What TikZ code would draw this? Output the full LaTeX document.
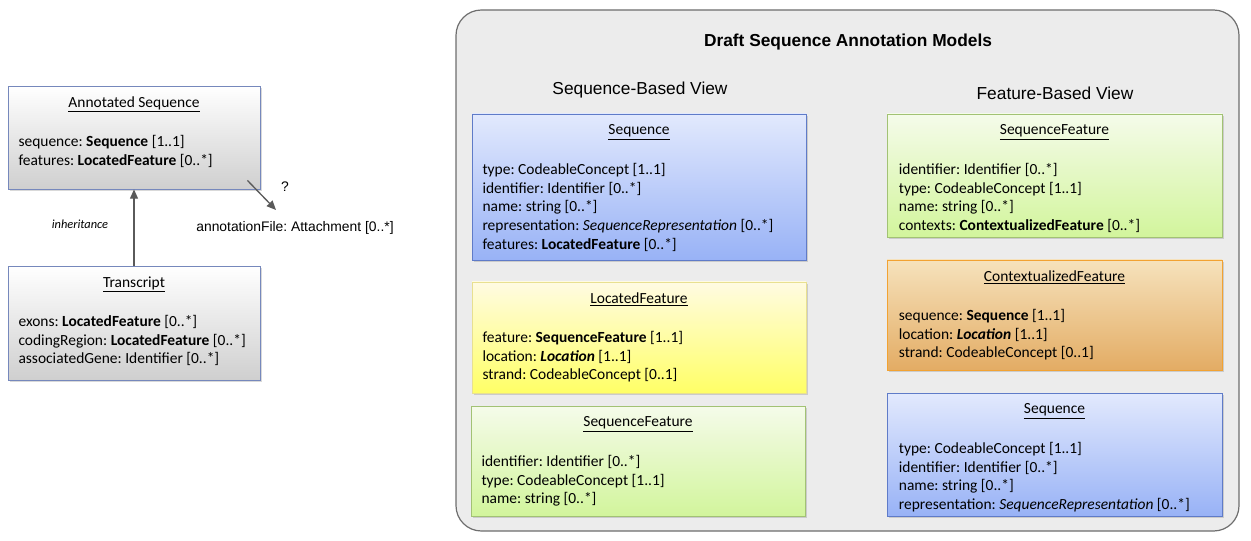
\documentclass[tikz,border=0pt]{standalone}
\usepackage{fontspec}
\setmainfont{Carlito}
\newfontfamily\arialfont{Liberation Sans}
\usetikzlibrary{positioning,arrows.meta,shadows,fit}
\frenchspacing

\definecolor{boxedge}{HTML}{7688BC}
\definecolor{greyend}{HTML}{CFCFCF}
\definecolor{bluetop}{HTML}{E2E9FD}
\definecolor{blueend}{HTML}{98B2F6}
\definecolor{blueedge}{HTML}{5F7BC8}
\definecolor{yellowtop}{HTML}{FFFBE2}
\definecolor{yellowend}{HTML}{FFFF66}
\definecolor{yellowedge}{HTML}{E8E090}
\definecolor{greentop}{HTML}{F5FBEA}
\definecolor{greenend}{HTML}{D2F59C}
\definecolor{greenedge}{HTML}{A2C274}
\definecolor{orangetop}{HTML}{F6E2BC}
\definecolor{orangeend}{HTML}{E3AC64}
\definecolor{orangeedge}{HTML}{F2A232}
\definecolor{panelfill}{HTML}{ECECEC}
\definecolor{paneledge}{HTML}{6E6E6E}
\definecolor{arrowgrey}{HTML}{5A5A5A}

\begin{document}
\begin{tikzpicture}[x=0.75pt,y=-0.75pt,
    umlbox/.style={draw, inner sep=0pt, line width=0.6pt,
        drop shadow={opacity=0.3,shadow xshift=1.5pt,shadow yshift=-1.5pt}},
    greybox/.style={umlbox, draw=boxedge, top color=white, bottom color=greyend},
    bluebox/.style={umlbox, draw=blueedge, top color=bluetop, bottom color=blueend},
    yellowbox/.style={umlbox, draw=yellowedge, top color=yellowtop, bottom color=yellowend},
    greenbox/.style={umlbox, draw=greenedge, top color=greentop, bottom color=greenend},
    orangebox/.style={umlbox, draw=orangeedge, top color=orangetop, bottom color=orangeend},
    boxtitle/.style={inner sep=0pt, font=\fontsize{11.6}{14.1}\selectfont},
    attrs/.style={inner sep=0pt, align=left, font=\fontsize{11.6}{14.1}\selectfont},
    heading/.style={inner sep=0pt, font=\arialfont\fontsize{13}{15}\selectfont},
    linkarrow/.style={draw=arrowgrey, line width=1pt, -{Triangle[width=6pt,length=7pt]}}
]
\useasboundingbox (0,0) rectangle (1251,541);

% Left side: annotated sequence and transcript
\node[greybox, fit={(8,86) (260,189)}] (annot) {};
\node[boxtitle, below=8pt of annot.north] (annottitle) {\underline{Annotated Sequence}};
\node[attrs, below right=37pt and 8pt of annot.north west] (annotattrs)
    {sequence: \textbf{Sequence} [1..1]\\
     features: \textbf{LocatedFeature} [0..*]};

\node[greybox, fit={(8,266) (260,380)}] (trans) {};
\node[boxtitle, below=8pt of trans.north] (transtitle) {\underline{Transcript}};
\node[attrs, below right=37pt and 8pt of trans.north west] (transattrs)
    {exons: \textbf{LocatedFeature} [0..*]\\
     codingRegion: \textbf{LocatedFeature} [0..*]\\
     associatedGene: Identifier [0..*]};

\draw[linkarrow] (trans.north) -- (annot.south);
\node[inner sep=0pt, font=\fontsize{9.3}{11}\selectfont\itshape] (inherit) at (80,224) {inheritance};

\node[inner sep=0pt, font=\arialfont\fontsize{10.4}{12}\selectfont] (afile) at (295,228) {annotationFile: Attachment [0..*]};
\coordinate (qend) at (276,210);
\draw[linkarrow] ([shift={(-13,-9)}]annot.south east) -- (qend);
\node[inner sep=0pt, font=\arialfont\fontsize{10.4}{12}\selectfont] (qmark) at (285,187) {?};

% Right side: panel with the two views
\node[fit={(456,10) (1239,531)}, inner sep=0pt, draw=paneledge, fill=panelfill,
      line width=0.9pt, rounded corners=19pt] (models) {};
\node[heading, font=\arialfont\bfseries\fontsize{13}{15}\selectfont] (modelstitle) at (848,42) {Draft Sequence Annotation Models};
\node[heading] (seqview) at (640,90) {Sequence-Based View};
\node[heading] (featview) at (1055,93) {Feature-Based View};

% Sequence-based view
\node[bluebox, fit={(472,114) (806,260)}] (seqA) {};
\node[boxtitle, below=8pt of seqA.north] {\underline{Sequence}};
\node[attrs, below right=37pt and 8pt of seqA.north west]
    {type: CodeableConcept [1..1]\\
     identifier: Identifier [0..*]\\
     name: string [0..*]\\
     representation: \textit{SequenceRepresentation} [0..*]\\
     features: \textbf{LocatedFeature} [0..*]};

\node[yellowbox, fit={(472,282) (806,393)}] (locA) {};
\node[boxtitle, below=8pt of locA.north] {\underline{LocatedFeature}};
\node[attrs, below right=37pt and 8pt of locA.north west]
    {feature: \textbf{SequenceFeature} [1..1]\\
     location: \textbf{\textit{Location}} [1..1]\\
     strand: CodeableConcept [0..1]};

\node[greenbox, fit={(471,406) (805,516)}] (featA) {};
\node[boxtitle, below=8pt of featA.north] {\underline{SequenceFeature}};
\node[attrs, below right=37pt and 8pt of featA.north west]
    {identifier: Identifier [0..*]\\
     type: CodeableConcept [1..1]\\
     name: string [0..*]};

% Feature-based view
\node[greenbox, fit={(887,114) (1222,237)}] (featB) {};
\node[boxtitle, below=8pt of featB.north] {\underline{SequenceFeature}};
\node[attrs, below right=37pt and 9pt of featB.north west]
    {identifier: Identifier [0..*]\\
     type: CodeableConcept [1..1]\\
     name: string [0..*]\\
     contexts: \textbf{ContextualizedFeature} [0..*]};

\node[orangebox, fit={(887,260) (1222,370)}] (ctxB) {};
\node[boxtitle, below=8pt of ctxB.north] {\underline{ContextualizedFeature}};
\node[attrs, below right=37pt and 9pt of ctxB.north west]
    {sequence: \textbf{Sequence} [1..1]\\
     location: \textbf{\textit{Location}} [1..1]\\
     strand: CodeableConcept [0..1]};

\node[bluebox, fit={(887,393) (1222,516)}] (seqB) {};
\node[boxtitle, below=8pt of seqB.north] {\underline{Sequence}};
\node[attrs, below right=37pt and 9pt of seqB.north west]
    {type: CodeableConcept [1..1]\\
     identifier: Identifier [0..*]\\
     name: string [0..*]\\
     representation: \textit{SequenceRepresentation} [0..*]};

\end{tikzpicture}
\end{document}
